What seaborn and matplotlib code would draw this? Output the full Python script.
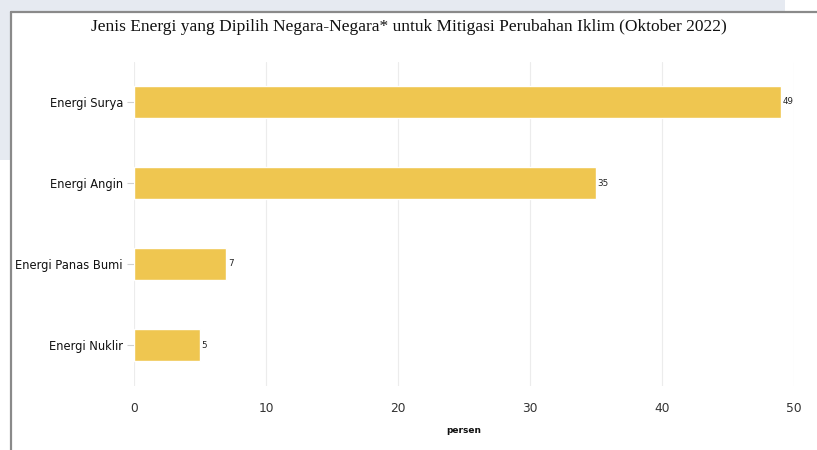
import pandas as pd
import seaborn as sns
import matplotlib.pyplot as plt
from matplotlib.patches import Rectangle
from matplotlib.lines import Line2D

# Data
energi = ['Energi Surya', 'Energi Angin', 'Energi Panas Bumi', 'Energi Nuklir']
persen = [49, 35, 7, 5]
x_ticks = [0, 10, 20, 30, 40, 50]

title = 'Jenis Energi yang Dipilih Negara-Negara* untuk Mitigasi Perubahan Iklim (Oktober 2022)'
bar_color = '#EFC650'


def run():
    df = pd.DataFrame({'energi': energi, 'persen': persen})

    sns.set_style("white")
    plt.rcParams['font.family'] = ['DejaVu Sans']

    W, H = 817, 450
    fig = plt.figure(figsize=(W / 100, H / 100), dpi=100)
    fig.patch.set_facecolor('white')

    # page background strips outside the framed chart
    bg = '#E6EAF1'
    fig.add_artist(Rectangle((0, 1 - 11 / H), 785 / W, 11 / H, transform=fig.transFigure,
                             facecolor=bg, edgecolor='none', zorder=0))
    fig.add_artist(Rectangle((0, 1 - 160 / H), 10 / W, 160 / H, transform=fig.transFigure,
                             facecolor=bg, edgecolor='none', zorder=0))
    # frame border
    fig.add_artist(Line2D([10.5 / W, 10.5 / W], [0, 1 - 11.5 / H], transform=fig.transFigure,
                          color='#8a8a8a', lw=1.6))
    fig.add_artist(Line2D([10.5 / W, 1], [1 - 11.5 / H, 1 - 11.5 / H], transform=fig.transFigure,
                          color='#8a8a8a', lw=1.6))

    ax = fig.add_axes([134 / W, 1 - 385.5 / H, 660 / W, 324 / H])
    sns.barplot(data=df, x='persen', y='energi', color=bar_color, width=0.4,
                orient='h', saturation=1, ax=ax, zorder=2)

    ax.set_xlim(0, 50)
    ax.set_xticks(x_ticks)
    ax.set_xticklabels([str(t) for t in x_ticks])
    ax.grid(axis='x', color='#ececec', lw=0.8, zorder=0)
    ax.grid(axis='y', visible=False)
    for s in ax.spines.values():
        s.set_visible(False)

    ax.tick_params(axis='x', length=0, pad=12, labelsize=8.8, labelcolor='#333333')
    ax.tick_params(axis='y', length=5, width=0.8, color='#d0d0d0', pad=3,
                   labelsize=8.3, labelcolor='#111111', left=True)

    ax.set_ylabel('')
    ax.set_xlabel('persen', fontsize=6.5, fontweight='bold', labelpad=8, color='#111111')

    for c in ax.containers:
        ax.bar_label(c, labels=[str(v) for v in persen], padding=1, fontsize=6.3, color='#222222')

    fig.text(0.5, 1 - 27 / H, title, ha='center', va='center',
             fontsize=12.5, family=['Liberation Serif'], color='#111111')

    fig.savefig('out.png', dpi=100)
    plt.close(fig)


if __name__ == "__main__":
    run()
